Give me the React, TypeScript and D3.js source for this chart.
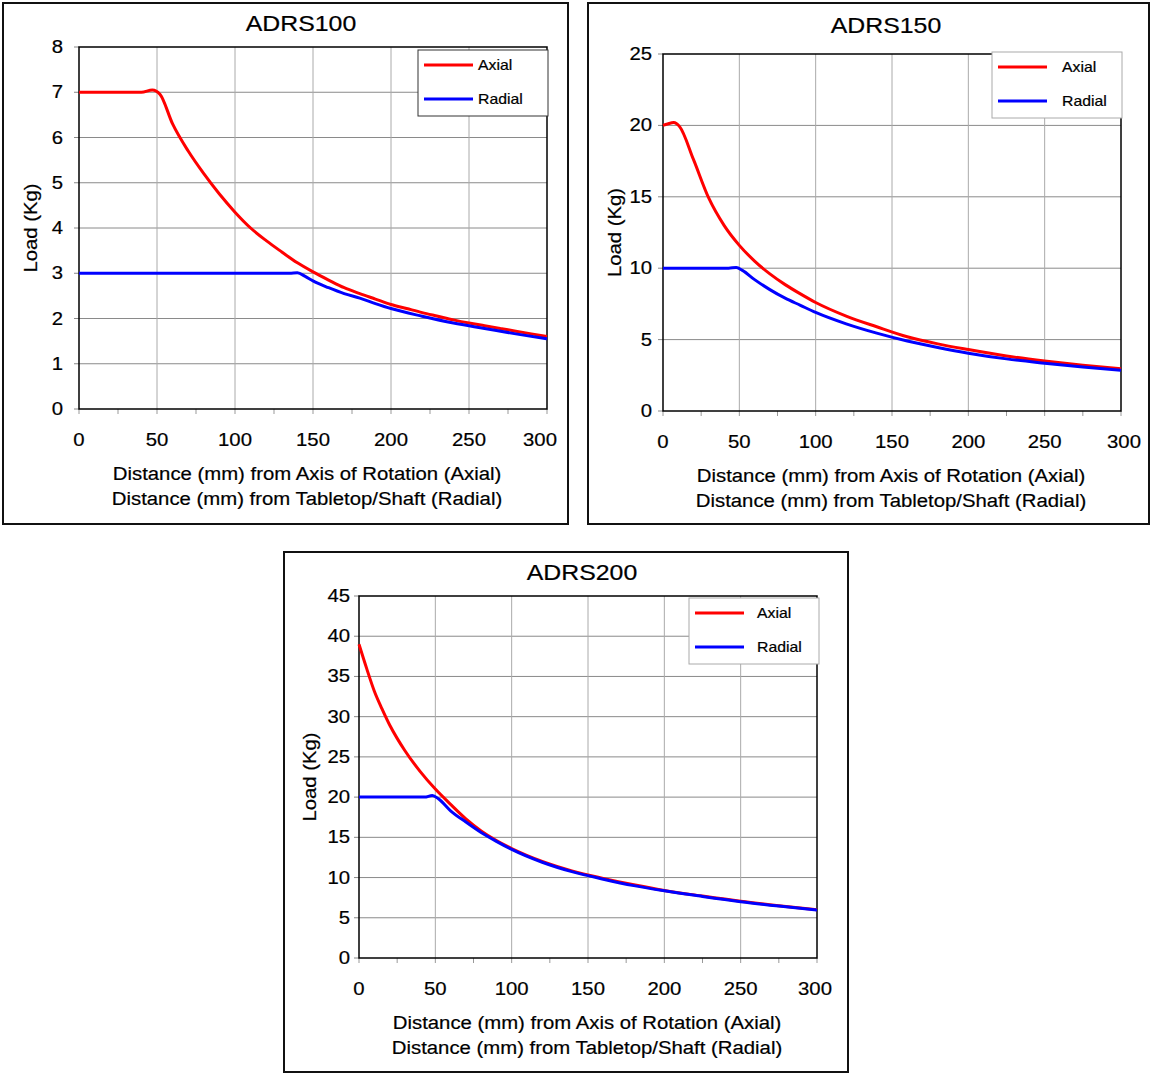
import React from "react";
import * as d3 from "d3";

// ---- data ----
const adrs100AxialX = [0, 40, 47, 52, 60, 70, 80, 90, 100, 110, 120, 130, 140, 150, 160, 170, 180, 190, 200, 210, 220, 230, 240, 250, 260, 270, 280, 290, 300];
const adrs100AxialY = [7, 7, 7.05, 6.95, 6.3, 5.7, 5.2, 4.75, 4.35, 4.0, 3.72, 3.47, 3.23, 3.03, 2.85, 2.68, 2.55, 2.43, 2.31, 2.22, 2.13, 2.05, 1.97, 1.9, 1.84, 1.78, 1.72, 1.66, 1.6];
const adrs100RadialX = [0, 135, 140, 145, 150, 160, 170, 180, 190, 200, 220, 240, 260, 280, 300];
const adrs100RadialY = [3, 3, 3.01, 2.93, 2.83, 2.68, 2.55, 2.45, 2.33, 2.22, 2.05, 1.9, 1.78, 1.66, 1.55];

const adrs150AxialX = [0, 3, 7, 11, 20, 30, 40, 50, 60, 70, 80, 90, 100, 120, 140, 160, 180, 200, 225, 250, 275, 300];
const adrs150AxialY = [20, 20.1, 20.2, 19.9, 17.6, 14.9, 13.0, 11.6, 10.5, 9.6, 8.85, 8.2, 7.6, 6.65, 5.9, 5.2, 4.7, 4.3, 3.85, 3.5, 3.2, 2.95];
const adrs150RadialX = [0, 43, 48, 52, 60, 70, 80, 90, 100, 120, 140, 160, 180, 200, 225, 250, 275, 300];
const adrs150RadialY = [10, 10, 10.05, 9.85, 9.2, 8.5, 7.9, 7.4, 6.9, 6.1, 5.45, 4.9, 4.45, 4.05, 3.65, 3.35, 3.08, 2.85];

const adrs200AxialX = [0, 5, 10, 15, 20, 25, 30, 40, 50, 60, 70, 80, 90, 100, 120, 140, 160, 180, 200, 225, 250, 275, 300];
const adrs200AxialY = [39, 36, 33.2, 31, 29, 27.3, 25.8, 23.2, 21, 19.1, 17.3, 15.8, 14.6, 13.6, 12, 10.8, 9.9, 9.1, 8.4, 7.7, 7.05, 6.5, 6.0];
const adrs200RadialX = [0, 43, 48, 52, 60, 70, 80, 90, 100, 120, 140, 160, 180, 200, 225, 250, 275, 300];
const adrs200RadialY = [20, 20, 20.2, 19.8, 18.3, 16.9, 15.6, 14.5, 13.5, 11.9, 10.7, 9.8, 9.0, 8.35, 7.65, 7.0, 6.45, 5.95];

const xTicks = [0, 50, 100, 150, 200, 250, 300];
const xMinorTicks = d3.range(0, 301, 25);
const seriesNames = ["Axial", "Radial"];
const xLabelLines = [
  "Distance (mm) from Axis of Rotation (Axial)",
  "Distance (mm) from Tabletop/Shaft (Radial)",
];
const yLabel = "Load (Kg)";

const COLORS = ["#ff0000", "#0000ff"];
const FONT = "'Liberation Sans', Arial, sans-serif";
// the source renders its Arial a bit wide
const STRETCH = 1.13;

type Panel = {
  title: string;
  box: [number, number, number, number];
  plot: [number, number, number, number];
  yMax: number;
  yStep: number;
  yLabelGap: number;
  lastXLabelDx: number;
  titleX: number;
  titleY: number;
  yLabelX: number;
  xLabelX: number;
  legendX: number;
  legendY: number;
  legendStroke: string;
  legendTextDx: number;
  series: { x: number[]; y: number[] }[];
};

const panels: Panel[] = [
  {
    title: "ADRS100",
    box: [3, 3, 568, 524],
    plot: [79, 47, 547, 409],
    yMax: 8,
    yStep: 1,
    yLabelGap: 16,
    lastXLabelDx: -7,
    titleX: 301,
    titleY: 31,
    yLabelX: 37,
    xLabelX: 307,
    legendX: 418,
    legendY: 50,
    legendStroke: "#333",
    legendTextDx: 60,
    series: [
      { x: adrs100AxialX, y: adrs100AxialY },
      { x: adrs100RadialX, y: adrs100RadialY },
    ],
  },
  {
    title: "ADRS150",
    box: [588, 3, 1149, 524],
    plot: [663, 54, 1121, 411],
    yMax: 25,
    yStep: 5,
    yLabelGap: 11,
    lastXLabelDx: 3,
    titleX: 886,
    titleY: 33,
    yLabelX: 621,
    xLabelX: 891,
    legendX: 992,
    legendY: 52,
    legendStroke: "#aaa",
    legendTextDx: 70,
    series: [
      { x: adrs150AxialX, y: adrs150AxialY },
      { x: adrs150RadialX, y: adrs150RadialY },
    ],
  },
  {
    title: "ADRS200",
    box: [284, 552, 848, 1072],
    plot: [359, 596, 817, 958],
    yMax: 45,
    yStep: 5,
    yLabelGap: 9,
    lastXLabelDx: -2,
    titleX: 582,
    titleY: 580,
    yLabelX: 316,
    xLabelX: 587,
    legendX: 689,
    legendY: 598,
    legendStroke: "#aaa",
    legendTextDx: 68,
    series: [
      { x: adrs200AxialX, y: adrs200AxialY },
      { x: adrs200RadialX, y: adrs200RadialY },
    ],
  },
];

function T({
  x,
  y,
  size,
  anchor = "start",
  rotate = 0,
  children,
}: {
  x: number;
  y: number;
  size: number;
  anchor?: string;
  rotate?: number;
  children: React.ReactNode;
}) {
  return (
    <text
      transform={`translate(${x},${y}) rotate(${rotate}) scale(${STRETCH},1)`}
      textAnchor={anchor}
      fontSize={size}
      fill="#000"
      stroke="#000"
      strokeWidth={0.2}
    >
      {children}
    </text>
  );
}

function ChartPanel({ p }: { p: Panel }) {
  const [left, top, right, bottom] = p.plot;
  const x = d3.scaleLinear().domain([0, 300]).range([left, right]);
  const y = d3.scaleLinear().domain([0, p.yMax]).range([bottom, top]);
  const yTicks = d3.range(0, p.yMax + 0.001, p.yStep);
  const line = d3
    .line<[number, number]>()
    .x((d) => x(d[0]))
    .y((d) => y(d[1]))
    .curve(d3.curveMonotoneX);
  const [bx0, by0, bx1, by1] = p.box;

  return (
    <g fontFamily={FONT}>
      <rect x={bx0} y={by0} width={bx1 - bx0} height={by1 - by0} fill="#fff" stroke="#111" strokeWidth={2} />
      <T x={p.titleX} y={p.titleY} size={22} anchor="middle">
        {p.title}
      </T>

      {/* grid */}
      {yTicks.slice(1, -1).map((t) => (
        <line key={"gy" + t} x1={left} x2={right} y1={y(t)} y2={y(t)} stroke="#8a8a8a" strokeWidth={1} />
      ))}
      {xTicks.slice(1, -1).map((t) => (
        <line key={"gx" + t} x1={x(t)} x2={x(t)} y1={top} y2={bottom} stroke="#aaa" strokeWidth={1} />
      ))}

      {/* ticks */}
      {yTicks.map((t) => (
        <line key={"ty" + t} x1={left - 5} x2={left} y1={y(t)} y2={y(t)} stroke="#888" strokeWidth={1} />
      ))}
      {xMinorTicks.map((t) => (
        <line key={"tx" + t} x1={x(t)} x2={x(t)} y1={bottom} y2={bottom + 5} stroke="#999" strokeWidth={1} />
      ))}

      {/* frame */}
      <rect x={left} y={top} width={right - left} height={bottom - top} fill="none" stroke="#000" strokeWidth={1.5} />

      {/* tick labels */}
      {yTicks.map((t) => (
        <T key={"ly" + t} x={left - p.yLabelGap} y={y(t) + 6} size={18} anchor="end">
          {t}
        </T>
      ))}
      {xTicks.map((t, i) => (
        <T
          key={"lx" + t}
          x={x(t) + (i === xTicks.length - 1 ? p.lastXLabelDx : 0)}
          y={bottom + 37}
          size={18}
          anchor="middle"
        >
          {t}
        </T>
      ))}

      {/* axis titles */}
      <T x={p.yLabelX} y={(top + bottom) / 2} size={18} anchor="middle" rotate={-90}>
        {yLabel}
      </T>
      {xLabelLines.map((s, i) => (
        <T key={s} x={p.xLabelX} y={bottom + 71 + i * 25} size={18} anchor="middle">
          {s}
        </T>
      ))}

      {/* curves */}
      {p.series.map((s, i) => (
        <path
          key={"s" + i}
          d={line(s.x.map((v, j) => [v, s.y[j]] as [number, number])) || ""}
          fill="none"
          stroke={COLORS[i]}
          strokeWidth={3}
          strokeLinejoin="round"
        />
      ))}

      {/* legend */}
      <g transform={`translate(${p.legendX},${p.legendY})`}>
        <rect x={0} y={0} width={130} height={66} fill="#fff" stroke={p.legendStroke} strokeWidth={1} />
        {seriesNames.map((n, i) => (
          <g key={n} transform={`translate(0,${15 + i * 34})`}>
            <line x1={6} x2={55} y1={0} y2={0} stroke={COLORS[i]} strokeWidth={3} />
            <T x={p.legendTextDx} y={5} size={14}>
              {n}
            </T>
          </g>
        ))}
      </g>
    </g>
  );
}

export default function App() {
  return (
    <svg
      width={1152}
      height={1074}
      style={{ position: "absolute", left: 0, top: 0, background: "#fff" }}
    >
      {panels.map((p) => (
        <ChartPanel key={p.title} p={p} />
      ))}
    </svg>
  );
}
